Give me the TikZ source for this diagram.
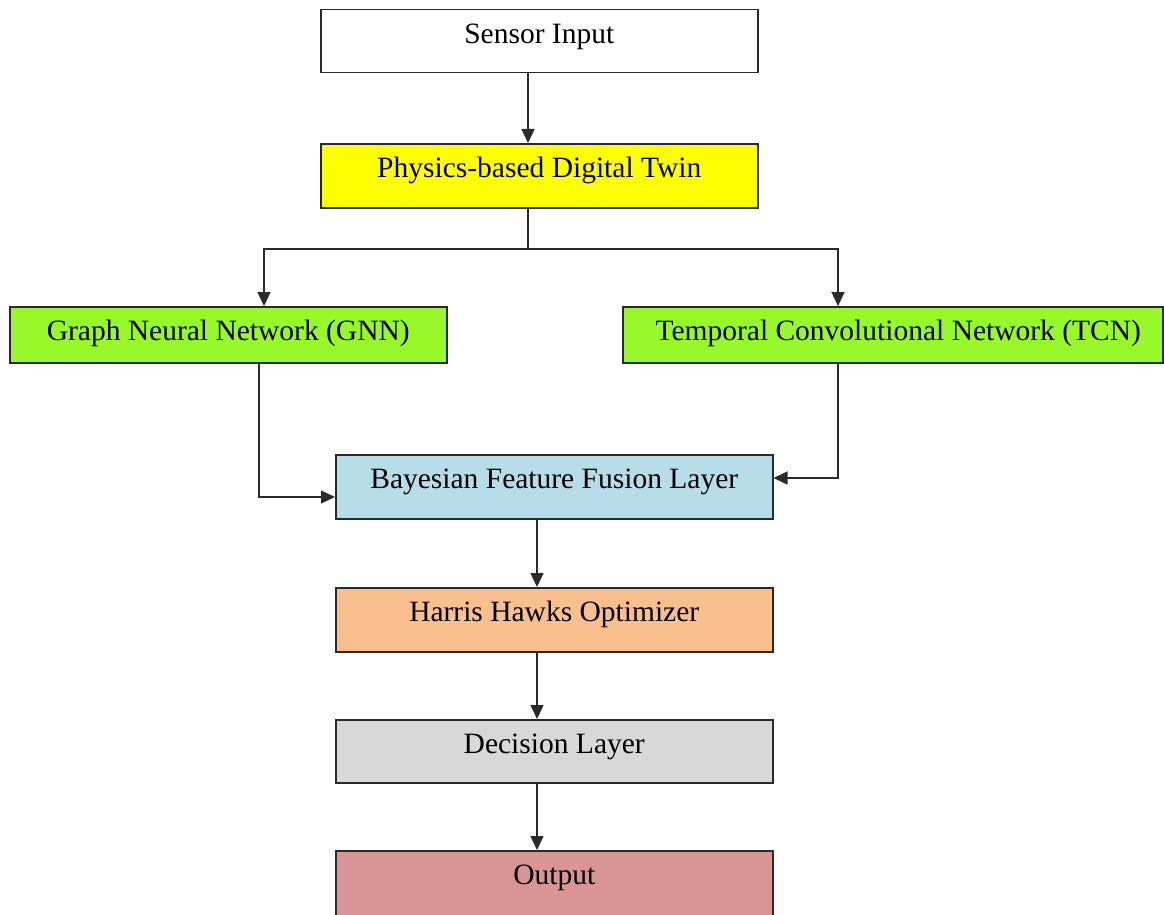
\documentclass[tikz,border=0pt]{standalone}
\usepackage{fontspec}
\setmainfont{Liberation Serif}
\usetikzlibrary{arrows.meta}
\definecolor{linegray}{HTML}{2A2A2A}
\definecolor{cyellow}{HTML}{FFFF00}
\definecolor{cgreen}{HTML}{98F92A}
\definecolor{cblue}{HTML}{B7DDE8}
\definecolor{corange}{HTML}{FABF8F}
\definecolor{cgray}{HTML}{D8D8D8}
\definecolor{cred}{HTML}{D99594}
\begin{document}
\begin{tikzpicture}[x=1pt,y=-1pt,
  box/.style={draw=linegray, line width=1.5pt, rectangle, anchor=north west,
    inner xsep=0pt, inner ysep=0pt, text height=34pt,
    font=\fontsize{29.5}{34}\selectfont},
  arr/.style={draw=linegray, line width=1.5pt, -{Triangle[length=14pt,width=13pt]}},
  ln/.style={draw=linegray, line width=1.5pt}]
\useasboundingbox[fill=white] (0,0) rectangle (1164,915);

\node[box, fill=white,   minimum width=437pt, text depth=29pt] (sensor) at (320,9)   {Sensor Input};
\node[box, fill=cyellow, minimum width=437pt, text depth=30pt] (twin)   at (320,143) {Physics-based Digital Twin};
\node[box, fill=cgreen,  minimum width=437pt, text depth=22pt] (gnn)    at (9,306)   {Graph Neural Network (GNN)};
\node[box, fill=cgreen,  minimum width=540pt, text depth=22pt] (tcn)    at (622,306) {\hspace*{11pt}Temporal Convolutional Network (TCN)};
\node[box, fill=cblue,   minimum width=437pt, text depth=30pt] (bay)    at (335,454) {Bayesian Feature Fusion Layer};
\node[box, fill=corange, minimum width=437pt, text depth=30pt] (hho)    at (335,587) {Harris Hawks Optimizer};
\node[box, fill=cgray,   minimum width=437pt, text depth=29pt] (dec)    at (335,719) {Decision Layer};
\node[box, fill=cred,    minimum width=437pt, text depth=40pt] (out)    at (335,850) {Output};

\coordinate (trunk) at (528,0);
\coordinate (bl) at (264,249);
\coordinate (br) at (838,249);
\coordinate (gl) at (259,497);
\coordinate (tr) at (838,478);
\coordinate (spine) at (537,0);

\draw[arr] (sensor.south -| trunk) -- (twin.north -| trunk);
\draw[ln] (twin.south -| trunk) -- (trunk |- bl);
\draw[arr] (trunk |- bl) -- (bl) -- (gnn.north -| bl);
\draw[arr] (trunk |- br) -- (br) -- (tcn.north -| br);
\draw[arr] (gnn.south -| gl) |- (bay.west |- gl);
\draw[arr] (tcn.south -| tr) |- (bay.east |- tr);
\draw[arr] (bay.south -| spine) -- (hho.north -| spine);
\draw[arr] (hho.south -| spine) -- (dec.north -| spine);
\draw[arr] (dec.south -| spine) -- (out.north -| spine);
\end{tikzpicture}
\end{document}
